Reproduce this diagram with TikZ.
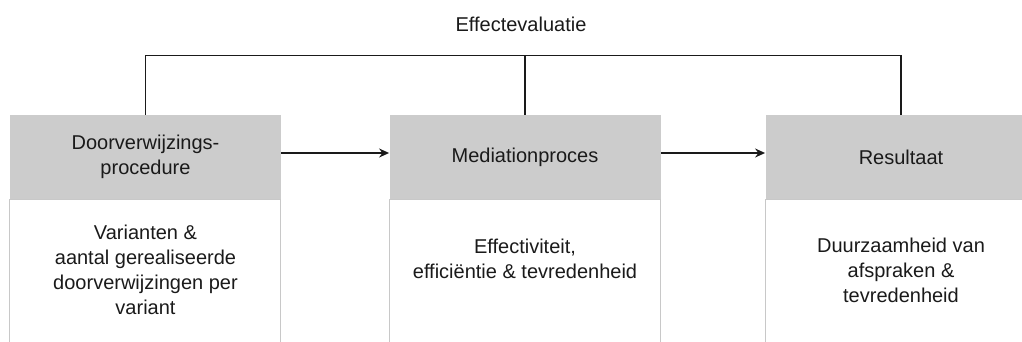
\documentclass[tikz,border=0pt]{standalone}
\usepackage{fontspec}
\setmainfont{Liberation Sans}
\usetikzlibrary{arrows.meta}
\definecolor{kopgrijs}{HTML}{CCCCCC}
\definecolor{randgrijs}{HTML}{C8C8C8}
\definecolor{inkt}{HTML}{1A1A1A}

\begin{document}
\begin{tikzpicture}[x=0.5pt, y=-0.5pt,
  font=\fontsize{10}{12.5}\selectfont, text=inkt,
  kop/.style={rectangle, fill=kopgrijs, minimum width=135.5pt, minimum height=42pt, inner sep=0pt, align=center},
  romp/.style={align=center, inner sep=0pt},
  rand/.style={draw=randgrijs, line width=0.6pt},
  lijn/.style={draw=inkt, line width=0.75pt},
  pijl/.style={lijn, -{Stealth[length=5pt, width=4.5pt]}}]
\clip (0,0) rectangle (1022,342);
\node[kop] (kop1) at (145.5,157) {Doorverwijzings-\\procedure};
\node[kop] (kop2) at (525,157) {Mediationproces};
\node[kop] (kop3) at (901,157) {Resultaat};
\draw[rand] (kop1.south west) rectangle ++(135.5pt,-100pt);
\draw[rand] (kop2.south west) rectangle ++(135.5pt,-100pt);
\draw[rand] (kop3.south west) rectangle ++(135.5pt,-100pt);
\node[romp] (romp1) at (145.5,270) {Varianten \&\\aantal gerealiseerde\\doorverwijzingen per\\variant};
\node[romp] (romp2) at (525,259) {Effectiviteit,\\efficiëntie \& tevredenheid};
\node[romp] (romp3) at (901,270) {Duurzaamheid van\\afspraken \&\\tevredenheid};
\node[inner sep=0pt] (eval) at (521,24) {Effectevaluatie};
\coordinate (boven) at (523,55.5);
\draw[lijn] (kop1.north) |- (boven) -| (kop3.north);
\draw[lijn] (kop2.north) -- (kop2.north |- boven);
\draw[pijl] ([yshift=2pt]kop1.east) -- ([yshift=2pt]kop2.west);
\draw[pijl] ([yshift=2pt]kop2.east) -- ([yshift=2pt]kop3.west);
\end{tikzpicture}
\end{document}
